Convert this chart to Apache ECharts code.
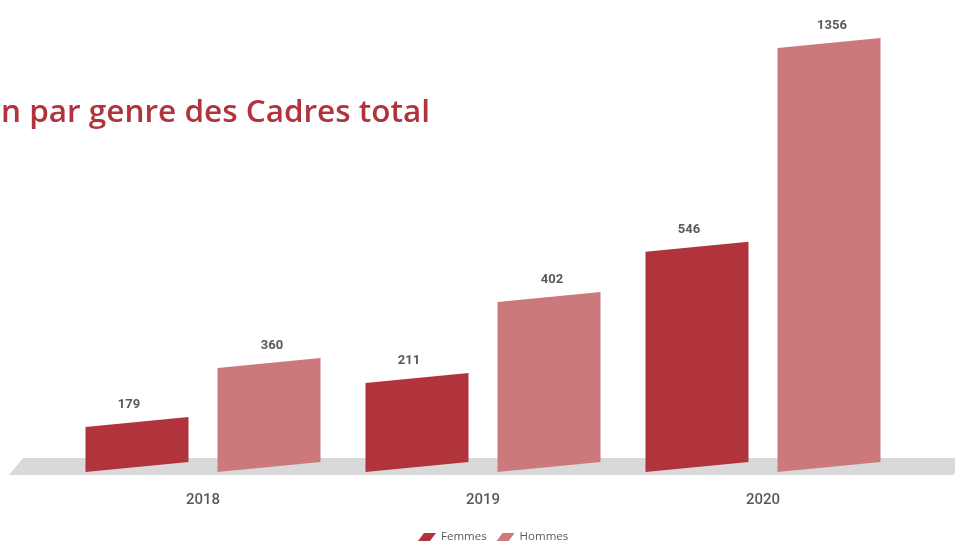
<!DOCTYPE html>
<html>
<head>
<meta charset="utf-8">
<style>
  html, body { margin: 0; padding: 0; background: #fff; }
  #chart { width: 955px; height: 542px; }
</style>
<script src="https://cdn.jsdelivr.net/npm/echarts@6/dist/echarts.min.js"></script>
</head>
<body>
<div id="chart"></div>
<script>
/* Cadres par genre — slanted bars on a grey floor, drawn with a custom series. */
const years = ["2018", "2019", "2020"];
const femmesValue = [179, 211, 546];
const hommesValue = [360, 402, 1356];
// bar heights as drawn in the reference (not proportional to the labels), in axis units
const femmesHeight = [144, 285, 704];
const hommesHeight = [333, 544, 1356];

const C = {
  femmes: "#B1333B",
  hommes: "#CB797B",
  floor: "#D9D9D9",
  ink: "#595959",
};
const BAR_W = 103;
const SKEW = 10;

function skewBar(offset, color, labelDx) {
  return function (params, api) {
    const base = api.coord([api.value(0), 0]);
    const top = api.coord([api.value(0), api.value(1)]);
    const cx = base[0] + offset;
    const hw = BAR_W / 2, s = SKEW / 2;
    return {
      type: "group",
      children: [
        {
          type: "polygon",
          shape: { points: [
            [cx - hw, base[1] + s], [cx + hw, base[1] - s],
            [cx + hw, top[1] - s], [cx - hw, top[1] + s],
          ] },
          style: { fill: color },
        },
        {
          type: "text",
          style: {
            text: String(api.value(2)),
            x: cx + labelDx, y: top[1] - 17,
            align: "center", verticalAlign: "middle",
            font: "bold 13px Roboto, sans-serif",
            fill: C.ink,
          },
        },
      ],
    };
  };
}

const chart = echarts.init(document.getElementById("chart"), null, { renderer: "canvas" });
chart.setOption({
  animation: false,
  grid: { left: 63, width: 840, top: 43, bottom: 75 },
  xAxis: {
    type: "category",
    data: years,
    axisLine: { show: false },
    axisTick: { show: false },
    axisLabel: { color: C.ink, fontFamily: "Roboto", fontSize: 15, fontWeight: 500, margin: 26 },
  },
  yAxis: { type: "value", min: 0, max: 1356, show: false },
  legend: {
    left: 413, top: 526,
    itemWidth: 18, itemHeight: 8, itemGap: 10,
    icon: "path://M6,0L18,0L12,8L0,8Z",
    textStyle: { color: C.ink, fontFamily: "Open Sans", fontSize: 11.5 },
    data: ["Femmes", "Hommes"],
  },
  graphic: [
    {
      type: "polygon", z: 0,
      shape: { points: [[23, 458], [955, 458], [955, 473], [953, 475], [9, 475]] },
      style: { fill: C.floor },
    },
    {
      type: "text", z: 1,
      style: {
        text: "n par genre des Cadres total",
        x: 1, y: 113,
        verticalAlign: "middle",
        fill: C.femmes,
        font: "600 31.5px 'Open Sans', sans-serif",
      },
    },
  ],
  series: [
    {
      name: "Femmes", type: "custom", z: 3,
      itemStyle: { color: C.femmes },
      renderItem: skewBar(-66, C.femmes, -8),
      encode: { x: 0, y: 1 },
      data: years.map((y, i) => [i, femmesHeight[i], femmesValue[i]]),
    },
    {
      name: "Hommes", type: "custom", z: 3,
      itemStyle: { color: C.hommes },
      renderItem: skewBar(66, C.hommes, 3),
      encode: { x: 0, y: 1 },
      data: years.map((y, i) => [i, hommesHeight[i], hommesValue[i]]),
    },
  ],
});
</script>
</body>
</html>
